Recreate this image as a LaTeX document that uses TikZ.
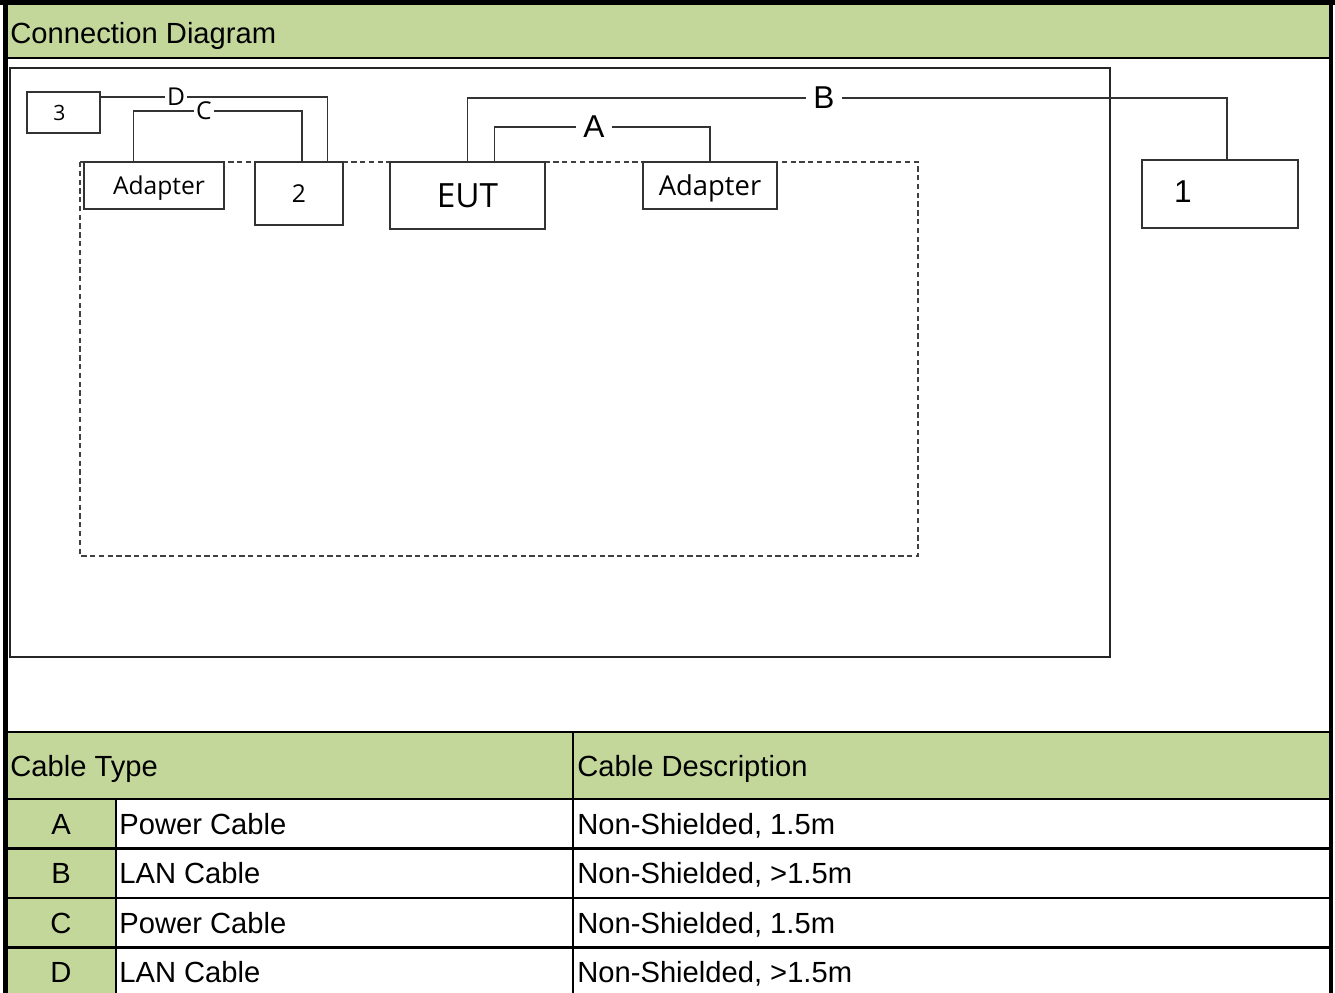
\documentclass[tikz,border=0pt]{standalone}
\usepackage{fontspec}
\setmainfont{Liberation Sans}
\newfontfamily\yahei{Open Sans}
\usetikzlibrary{positioning}
\definecolor{hdrgreen}{HTML}{C4D79B}

\begin{document}
\begin{tikzpicture}[x=0.02cm, y=-0.02cm,
    box/.style={draw=black!80, line width=0.8pt, inner sep=0pt, font=\yahei\fontsize{14}{16}\selectfont},
    cab/.style={inner sep=1pt, font=\yahei\fontsize{14}{16}\selectfont},
    bigcab/.style={inner xsep=4pt, inner ysep=1pt, font=\fontsize{18}{20}\selectfont},
    wire/.style={draw=black!80, line width=0.8pt},
    cell/.style={anchor=west, inner sep=0pt, text height=13pt, text depth=1.2pt, font=\fontsize{16.6}{19}\selectfont},
    rule/.style={line width=1.2pt}]
    \useasboundingbox (0,0) rectangle (1335,993);
    % 底色
    \fill[hdrgreen] (8,5) rectangle (1329,57);
    \fill[hdrgreen] (8,733) rectangle (1329,798);
    \fill[hdrgreen] (8,799) rectangle (116,993);
    \node[cell] (title) at (10,33) {Connection Diagram};
    % 连接图
    \draw[black!85, line width=0.8pt] (10,68) rectangle (1110,657);
    \draw[black!75, line width=0.8pt, dash pattern=on 3pt off 2pt] (80,162) rectangle (918,556);
    \node[box, minimum width=1.46cm, minimum height=0.82cm, font=\yahei\fontsize{12}{14}\selectfont] (box3) at (63.5,112.5) {3\hspace*{0.16cm}};
    \node[box, minimum width=2.8cm, minimum height=0.94cm, text depth=0pt] (adpL) at (154,185.5) {\hspace*{0.2cm}Adapter};
    \node[box, minimum width=1.76cm, minimum height=1.26cm] (box2) at (299,193.5) {2};
    \node[box, minimum width=3.1cm, minimum height=1.34cm, font=\yahei\fontsize{19}{22}\selectfont] (eut) at (467.5,195.5) {EUT};
    \node[box, minimum width=2.68cm, minimum height=0.94cm, text depth=0pt, font=\yahei\fontsize{15.6}{18}\selectfont] (adpR) at (710,185.5) {Adapter};
    \node[box, minimum width=3.12cm, minimum height=1.36cm] (box1) at (1220,194) {};
    \node[bigcab] (num1) at (1183,192) {1};
    % 线缆
    \node[cab] (labD) at (176,97) {D};
    \node[cab] (labC) at (204,111) {C};
    \node[bigcab] (labA) at (594,127) {A};
    \node[bigcab] (labB) at (824,98) {B};
    \draw[wire] (box3.east |- labD) -- (labD.west);
    \draw[wire] (labD.east) -| ([xshift=-0.32cm]box2.north east);
    \draw[wire] ([xshift=1cm]adpL.north west) |- (labC.west);
    \draw[wire] (labC.east) -| ([xshift=0.06cm]box2.north);
    \draw[wire] ([xshift=2.1cm]eut.north west) |- (labA.west);
    \draw[wire] (labA.east) -| (adpR.north);
    \draw[wire] ([xshift=1.56cm]eut.north west) |- (labB.west);
    \draw[wire] (labB.east) -| ([xshift=0.14cm]box1.north);
    % 表格
    \node[cell] (hdtype) at (10,766) {Cable Type};
    \node[cell] (hddesc) at (577,766) {Cable Description};
    \foreach \k/\t/\d [count=\i from 0] in {A/Power Cable/{Non-Shielded, 1.5m}, B/LAN Cable/{Non-Shielded, >1.5m}, C/Power Cable/{Non-Shielded, 1.5m}, D/LAN Cable/{Non-Shielded, >1.5m}} {
        \node[cell, anchor=center] (key\k) at (61,824+49.4*\i) {\k};
        \node[cell] (type\k) at (119,824+49.4*\i) {\t};
        \node[cell] (desc\k) at (577,824+49.4*\i) {\d};
    }
    \draw[rule] (8,58) -- (1329,58);
    \draw[rule] (8,732) -- (1329,732);
    \foreach \yy in {799,848.5,898,947.5}
        \draw[rule] (8,\yy) -- (1329,\yy);
    \draw[rule] (573,732) -- (573,993);
    \draw[rule] (116,799) -- (116,993);
    % 外框
    \fill (0,0) rectangle (1335,5);
    \fill (3,0) rectangle (8,993);
    \fill (1329,0) rectangle (1333,993);
\end{tikzpicture}
\end{document}
